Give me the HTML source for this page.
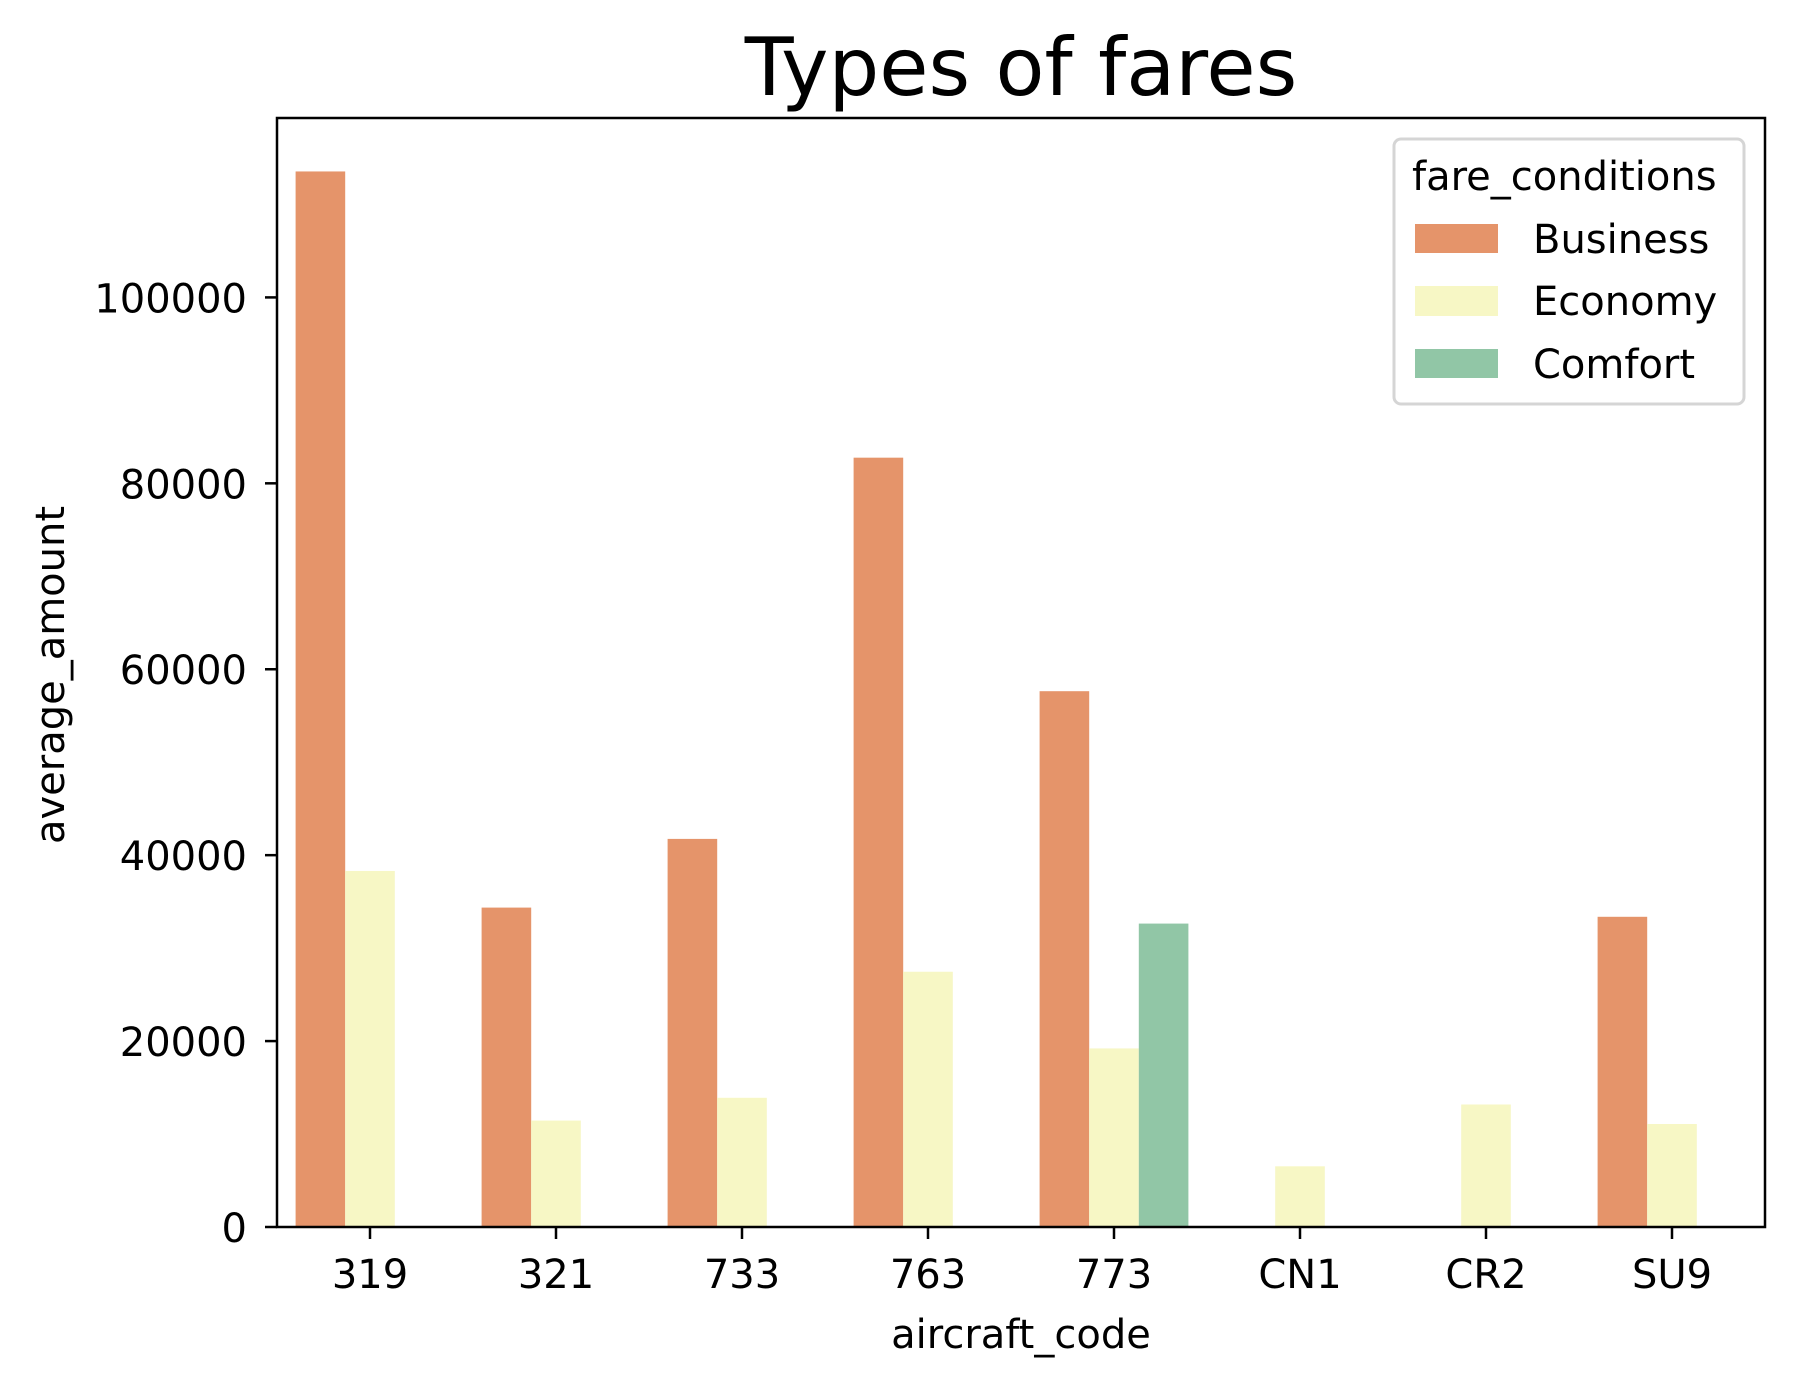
<!DOCTYPE html>
<html><head><meta charset="utf-8"><style>
html,body{margin:0;padding:0;background:#fff}
svg{display:block;font-family:"DejaVu Sans","Liberation Sans",sans-serif}
</style></head><body>
<svg id="chart" width="1794" height="1388" viewBox="0 0 1794 1388" xmlns="http://www.w3.org/2000/svg">
<rect width="1794" height="1388" fill="#fff"/>
<text x="1021" y="95" font-size="80" text-anchor="middle">Types of fares</text>
<g id="bars"></g>
<g id="yaxis"></g>
<g id="xaxis"></g>
<rect x="277" y="118" width="1488" height="1109" fill="none" stroke="#000" stroke-width="2.5"/>
<text x="1021" y="1348" font-size="40" text-anchor="middle">aircraft_code</text>
<text x="0" y="0" font-size="40" text-anchor="middle" transform="translate(64,675) rotate(-90)">average_amount</text>
<g>
<rect x="1394" y="139" width="350" height="265" rx="7" fill="#fff" fill-opacity="0.8" stroke="#d5d5d5" stroke-width="3"/>
<text x="1412" y="190" font-size="40">fare_conditions</text>
<rect x="1415" y="224" width="83" height="29" fill="#e5946a"/>
<text x="1533" y="253" font-size="40">Business</text>
<rect x="1415" y="286" width="83" height="30" fill="#f7f7c5"/>
<text x="1533" y="315" font-size="40">Economy</text>
<rect x="1415" y="349" width="83" height="29" fill="#91c6a6"/>
<text x="1533" y="378" font-size="40">Comfort</text>
</g>
</svg>
<script>
const categories = ["319","321","733","763","773","CN1","CR2","SU9"];
const seriesNames = ["Business","Economy","Comfort"];
const business = [113550, 34360, 41750, 82760, 57640, null, null, 33370];
const economy = [38300, 11450, 13900, 27460, 19210, 6530, 13180, 11080];
const comfort = [null, null, null, null, 32640, null, null, null];
const yTicks = [0, 20000, 40000, 60000, 80000, 100000];

const NS = "http://www.w3.org/2000/svg";
const X0 = 277, X1 = 1765, Y0 = 1227, PXPER = 1109 / 119300;
function y(v){ return Y0 - v * PXPER; }
const band = (X1 - X0) / categories.length;
function xc(i){ return X0 + band * (i + 0.5); }
const barW = band * 0.8 / 3;
const colors = ["#e5946a", "#f7f7c5", "#91c6a6"];
const series = [business, economy, comfort];
const bars = document.getElementById("bars");
series.forEach((s, si) => {
  s.forEach((v, i) => {
    if (v == null) return;
    const r = document.createElementNS(NS, "rect");
    r.setAttribute("x", xc(i) - band * 0.4 + si * barW);
    r.setAttribute("y", y(v));
    r.setAttribute("width", barW);
    r.setAttribute("height", Y0 - y(v));
    r.setAttribute("fill", colors[si]);
    
    
    bars.appendChild(r);
  });
});
const ya = document.getElementById("yaxis");
yTicks.forEach(t => {
  const l = document.createElementNS(NS, "line");
  l.setAttribute("x1", X0 - 12); l.setAttribute("x2", X0);
  l.setAttribute("y1", y(t)); l.setAttribute("y2", y(t));
  l.setAttribute("stroke", "#000"); l.setAttribute("stroke-width", "2.5");
  
  
  ya.appendChild(l);
  const tx = document.createElementNS(NS, "text");
  tx.setAttribute("x", X0 - 30); tx.setAttribute("y", y(t) + 15);
  tx.setAttribute("font-size", "40"); tx.setAttribute("text-anchor", "end");
  tx.textContent = t;
  
  
  ya.appendChild(tx);
});
const xa = document.getElementById("xaxis");
categories.forEach((c, i) => {
  const l = document.createElementNS(NS, "line");
  l.setAttribute("x1", xc(i)); l.setAttribute("x2", xc(i));
  l.setAttribute("y1", Y0); l.setAttribute("y2", Y0 + 12);
  l.setAttribute("stroke", "#000"); l.setAttribute("stroke-width", "2.5");
  
  
  xa.appendChild(l);
  const tx = document.createElementNS(NS, "text");
  tx.setAttribute("x", xc(i)); tx.setAttribute("y", 1288);
  tx.setAttribute("font-size", "40"); tx.setAttribute("text-anchor", "middle");
  tx.textContent = c;
  
  
  xa.appendChild(tx);
});
</script>
</body></html>
